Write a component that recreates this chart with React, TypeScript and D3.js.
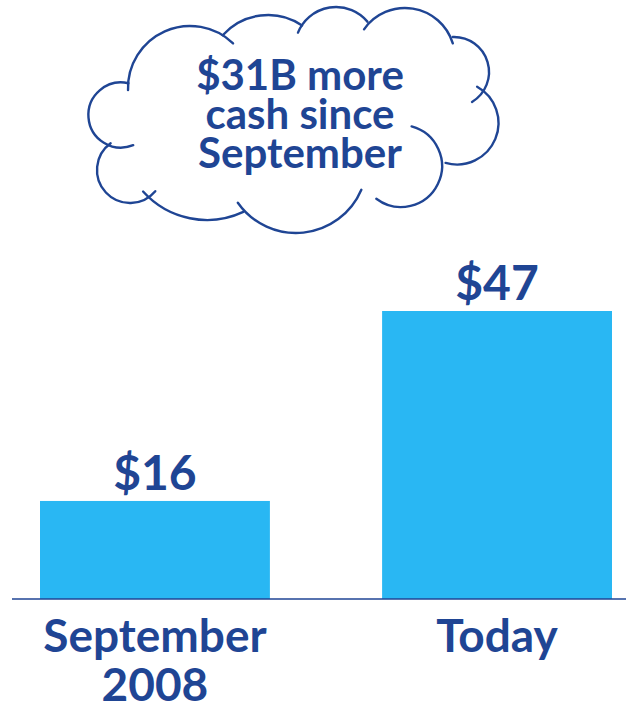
import React from "react";
import * as d3 from "d3";

// chart data
const categories = ["September 2008", "Today"];
const cashValues = [16, 47];
const valueLabels = ["$16", "$47"];
const categoryLines = [["September", "2008"], ["Today"]];
const cloudLines = ["$31B more", "cash since", "September"];

// cloud outline: each bump is an open arc [cx, cy, r, startDeg, endDeg]
const cloudBumps = [
    [190, 88, 62, 178, 314],
    [268, 76, 61, 222, 304],
    [336, 48, 41, 202, 320],
    [405, 58, 50, 215, 343],
    [454, 72, 35, 268, 419],
    [457, 123, 41.5, 299, 466],
    [401, 166, 41, 285, 487],
    [296, 162, 71, 23, 145],
    [207, 134, 86, 65, 138],
    [130, 170, 33, 40, 234],
    [121, 115, 32.6, 68, 283]
];

const WIDTH = 626;
const HEIGHT = 707;
const NAVY = "#1f4594";
const BAR = "#29b7f3";
const FONT = "Lato, 'Open Sans', sans-serif";

const xScale = d3
    .scaleBand()
    .domain(categories)
    .range([40, 612])
    .paddingInner(0.328)
    .paddingOuter(0);

const yScale = d3.scaleLinear().domain([0, 47]).range([599, 311]);

const rad = (deg) => (deg * Math.PI) / 180;

function bumpPath(b) {
    const p = d3.path();
    const [cx, cy, r, a0, a1] = b;
    p.moveTo(cx + r * Math.cos(rad(a0)), cy + r * Math.sin(rad(a0)));
    p.arc(cx, cy, r, rad(a0), rad(a1), false);
    return p.toString();
}

export default function App() {
    return (
        <div style={{ position: "absolute", left: 0, top: 0 }}>
            <svg width={WIDTH} height={HEIGHT} style={{ display: "block", background: "#fff" }}>
                {/* cloud callout */}
                <g fill="none" stroke={NAVY} strokeWidth={2.4} strokeLinecap="round">
                    {cloudBumps.map((b, i) => (
                        <path key={i} d={bumpPath(b)} />
                    ))}
                </g>
                <g fill={NAVY} fontFamily={FONT} fontWeight="bold" fontSize={42} textAnchor="middle">
                    {cloudLines.map((t, i) => (
                        <text key={t} x={300} y={90 + i * 39}>
                            {t}
                        </text>
                    ))}
                </g>

                {/* bars */}
                {categories.map((c, i) => (
                    <rect
                        key={c}
                        x={xScale(c)}
                        y={yScale(cashValues[i])}
                        width={xScale.bandwidth()}
                        height={yScale(0) - yScale(cashValues[i])}
                        fill={BAR}
                    />
                ))}

                {/* baseline */}
                <line x1={12} x2={WIDTH} y1={yScale(0)} y2={yScale(0)} stroke={NAVY} strokeWidth={1.6} />

                {/* value labels */}
                <g fill={NAVY} fontFamily={FONT} fontWeight="bold" fontSize={48} textAnchor="middle">
                    {categories.map((c, i) => (
                        <text
                            key={c}
                            x={xScale(c) + xScale.bandwidth() / 2}
                            y={yScale(cashValues[i]) - 11}
                        >
                            {valueLabels[i]}
                        </text>
                    ))}
                </g>

                {/* category labels */}
                <g fill={NAVY} fontFamily={FONT} fontWeight="bold" fontSize={46} textAnchor="middle">
                    {categories.map((c, i) => (
                        <text key={c} x={xScale(c) + xScale.bandwidth() / 2} y={yScale(0) + 53}>
                            {categoryLines[i].map((line, j) => (
                                <tspan key={line} x={xScale(c) + xScale.bandwidth() / 2} dy={j === 0 ? 0 : 49}>
                                    {line}
                                </tspan>
                            ))}
                        </text>
                    ))}
                </g>
            </svg>
        </div>
    );
}
